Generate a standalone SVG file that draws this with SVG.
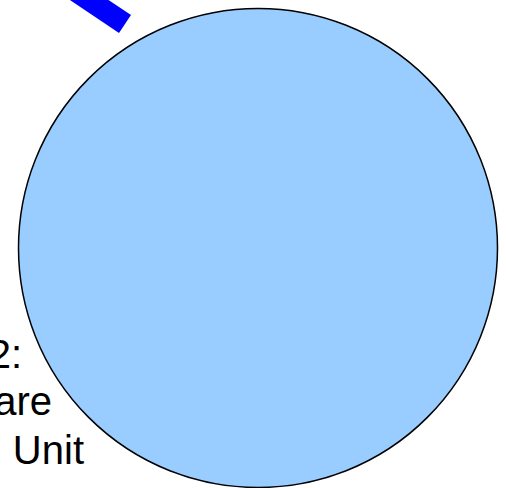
<svg xmlns="http://www.w3.org/2000/svg" width="506" height="488" viewBox="0 0 506 488">
<style>
.lbl{font-family:"Liberation Sans",Arial,sans-serif;font-size:40px;fill:#000;text-anchor:end}
</style>
<rect width="506" height="488" fill="#fff"/>
<g id="connectors">
<line x1="40" y1="-33" x2="125" y2="24" stroke="#0000ff" stroke-width="21.5"/>
</g>
<g id="label">
<text class="lbl" x="22" y="368">2:</text>
<text class="lbl" x="52" y="415">are</text>
<text class="lbl" x="84" y="464">Unit</text>
</g>
<g id="circle">
<circle cx="258" cy="248" r="239.5" fill="#99ccff" stroke="#000" stroke-width="1.5"/>
</g>
</svg>
